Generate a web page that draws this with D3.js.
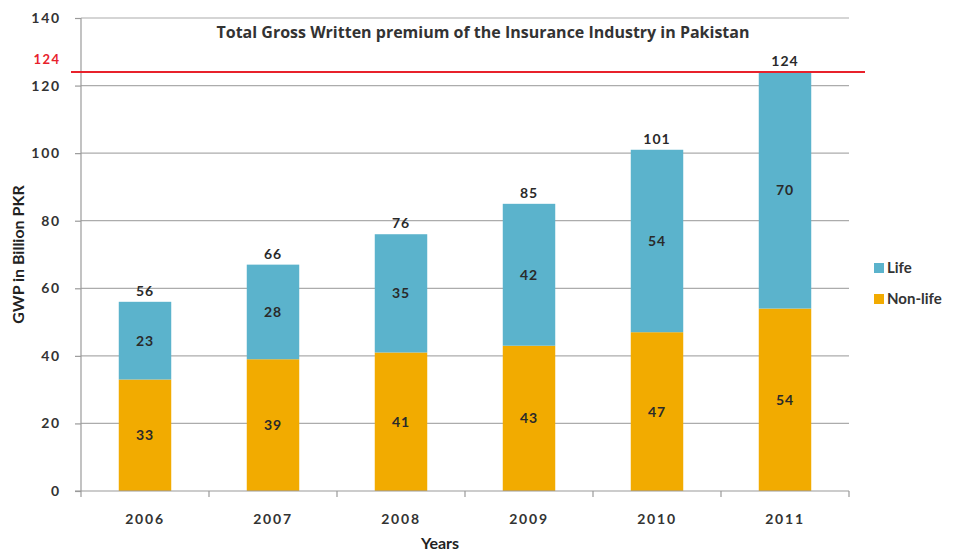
<!DOCTYPE html>
<html>
<head>
<meta charset="utf-8">
<script src="https://cdn.jsdelivr.net/npm/d3@7"></script>
<style>
  html, body { margin: 0; padding: 0; background: #fff; }
  text { font-family: Lato, "Open Sans", sans-serif; }
</style>
</head>
<body>
<svg id="chart" width="960" height="554"></svg>
<script>
// Gross written premium (billion PKR) by year
const years = ["2006", "2007", "2008", "2009", "2010", "2011"];
const nonLife = [33, 39, 41, 43, 47, 54];
const life = [23, 28, 35, 42, 54, 70];
const totals = [56, 66, 76, 85, 101, 124];
const yTicks = [0, 20, 40, 60, 80, 100, 120, 140];
const peakValue = 124;
const seriesNames = ["Life", "Non-life"];

const colors = { "Life": "#5bb3cc", "Non-life": "#f2ab00" };
const textColor = "#333";

const svg = d3.select("#chart");
const margin = { left: 81, right: 111, top: 18, bottom: 63 };
const W = 960, H = 554;

const x = d3.scaleBand()
  .domain(years)
  .range([margin.left, W - margin.right])
  .paddingInner(0.59)
  .paddingOuter(0.295);

const y = d3.scaleLinear()
  .domain([0, 140])
  .range([H - margin.bottom, margin.top]);

// Horizontal gridlines
svg.append("g")
  .selectAll("line")
  .data(yTicks.filter(d => d > 0))
  .join("line")
  .attr("x1", margin.left)
  .attr("x2", W - margin.right)
  .attr("y1", d => y(d))
  .attr("y2", d => y(d))
  .attr("stroke", "#acacac")
  .attr("stroke-width", 1.2);

// Stacked bars
const rows = years.map((yr, i) => ({ year: yr, "Non-life": nonLife[i], "Life": life[i] }));
const stack = d3.stack().keys(["Non-life", "Life"])(rows);

svg.append("g")
  .selectAll("g")
  .data(stack)
  .join("g")
  .attr("fill", d => colors[d.key])
  .selectAll("rect")
  .data(d => d)
  .join("rect")
  .attr("x", d => x(d.data.year))
  .attr("width", x.bandwidth())
  .attr("y", d => y(d[1]))
  .attr("height", d => y(d[0]) - y(d[1]));

// Segment value labels
svg.append("g")
  .selectAll("g")
  .data(stack)
  .join("g")
  .selectAll("text")
  .data(d => d.map((s, i) => ({ s, v: d.key === "Life" ? life[i] : nonLife[i] })))
  .join("text")
  .attr("x", d => x(d.s.data.year) + x.bandwidth() / 2)
  .attr("y", d => (y(d.s[0]) + y(d.s[1])) / 2)
  .attr("dy", "0.35em")
  .attr("text-anchor", "middle")
  .attr("font-size", 14)
  .attr("font-weight", "bold")
  .attr("letter-spacing", 1)
  .attr("fill", "#2a2a2a")
  .text(d => d.v);

// Total labels above bars
svg.append("g")
  .selectAll("text")
  .data(years)
  .join("text")
  .attr("x", d => x(d) + x.bandwidth() / 2)
  .attr("y", (d, i) => y(nonLife[i] + life[i]) - 6)
  .attr("text-anchor", "middle")
  .attr("font-size", 14)
  .attr("font-weight", "bold")
  .attr("letter-spacing", 1)
  .attr("fill", "#2a2a2a")
  .text((d, i) => totals[i]);

// Y axis
const yAxis = svg.append("g")
  .attr("transform", `translate(${margin.left},0)`)
  .call(d3.axisLeft(y).tickValues(yTicks).tickSize(6).tickPadding(14));
yAxis.select(".domain").attr("stroke", "#9a9a9a").attr("stroke-width", 1.2)
  .attr("d", `M0,${y(0)}V${y(140)}`);
yAxis.selectAll(".tick line").attr("stroke", "#9a9a9a").attr("stroke-width", 1.2);
yAxis.selectAll(".tick text")
  .attr("font-size", 14).attr("font-weight", "bold").attr("fill", textColor)
  .attr("letter-spacing", 1.8)
  .style("font-family", "Lato, sans-serif");

// X axis with ticks between categories
const xAxisG = svg.append("g")
  .attr("transform", `translate(0,${y(0)})`);
xAxisG.append("line")
  .attr("x1", margin.left - 6).attr("x2", W - margin.right)
  .attr("stroke", "#9a9a9a").attr("stroke-width", 1.2);
const step = x.step();
xAxisG.selectAll("line.tk")
  .data(d3.range(years.length + 1))
  .join("line")
  .attr("class", "tk")
  .attr("x1", i => margin.left + i * step)
  .attr("x2", i => margin.left + i * step)
  .attr("y1", 0).attr("y2", 6)
  .attr("stroke", "#9a9a9a").attr("stroke-width", 1.2);
xAxisG.selectAll("text")
  .data(years)
  .join("text")
  .attr("x", d => x(d) + x.bandwidth() / 2)
  .attr("y", 33)
  .attr("text-anchor", "middle")
  .attr("font-size", 14).attr("font-weight", "bold").attr("fill", textColor)
  .attr("letter-spacing", 1.8)
  .text(d => d);

// Peak reference line
svg.append("line")
  .attr("x1", margin.left - 10).attr("x2", W - margin.right + 16)
  .attr("y1", y(peakValue)).attr("y2", y(peakValue))
  .attr("stroke", "#e8212b").attr("stroke-width", 2);
svg.append("text")
  .attr("x", 47).attr("y", y(peakValue) - 8)
  .attr("text-anchor", "middle")
  .attr("font-size", 13).attr("font-weight", "bold").attr("fill", "#e8212b")
  .attr("letter-spacing", 1.5)
  .text(peakValue);

// Title
svg.append("text")
  .attr("x", 483).attr("y", 38)
  .attr("text-anchor", "middle")
  .attr("font-size", 16).attr("font-weight", "bold").attr("fill", textColor)
  .style("font-family", "'Open Sans', sans-serif")
  .text("Total Gross Written premium of the Insurance Industry in Pakistan");

// Axis titles
svg.append("text")
  .attr("transform", `translate(24,${(y(0) + y(140)) / 2}) rotate(-90)`)
  .attr("text-anchor", "middle")
  .attr("font-size", 16).attr("font-weight", "bold").attr("fill", "#222")
  .text("GWP in Billion PKR");
svg.append("text")
  .attr("x", 440).attr("y", 549)
  .attr("text-anchor", "middle")
  .attr("font-size", 16).attr("font-weight", "bold").attr("fill", "#222")
  .text("Years");

// Legend
const legend = svg.append("g")
  .selectAll("g")
  .data(seriesNames)
  .join("g")
  .attr("transform", (d, i) => `translate(874,${268 + i * 31})`);
legend.append("rect")
  .attr("x", 0).attr("y", -5).attr("width", 10).attr("height", 10)
  .attr("fill", d => colors[d]);
legend.append("text")
  .attr("x", 13).attr("y", 0).attr("dy", "0.35em")
  .attr("font-size", 15).attr("font-weight", "bold").attr("fill", textColor)
  .text(d => d);
</script>
</body>
</html>
